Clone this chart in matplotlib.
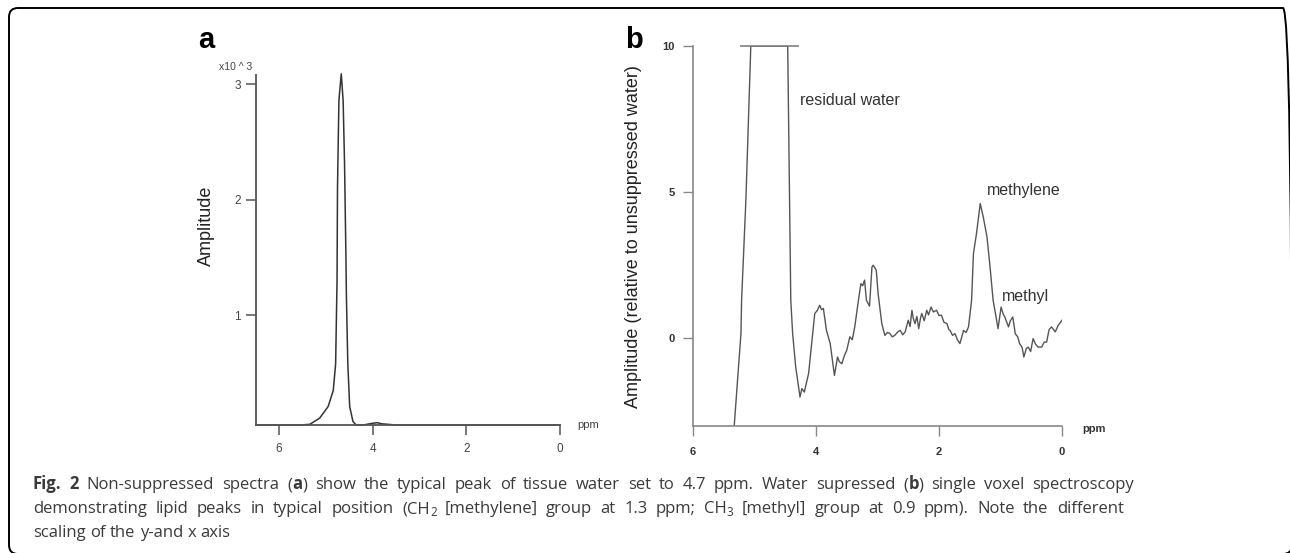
import matplotlib
matplotlib.use("Agg")
import matplotlib.pyplot as plt
from matplotlib.patches import FancyBboxPatch
from matplotlib.font_manager import FontProperties, findfont, get_font

# ---------------- data ----------------
# Panel a: non-suppressed spectrum (amplitude x10^3)
a_ppm = [6.49, 6.0, 5.8, 5.55, 5.34, 5.13, 4.95, 4.84, 4.79, 4.76, 4.75, 4.72,
         4.67, 4.63, 4.60, 4.57, 4.56, 4.53, 4.49, 4.42, 4.35, 4.2, 4.0, 3.9,
         3.8, 3.5, 3.0, 2.5, 2.0, 1.5, 1.0, 0.5, 0.0]
a_amp = [0.05, 0.05, 0.05, 0.05, 0.056, 0.11, 0.21, 0.35, 0.58, 1.30, 2.11, 2.86,
         3.09, 2.86, 2.32, 1.50, 1.16, 0.58, 0.21, 0.08, 0.05, 0.05, 0.065, 0.07,
         0.06, 0.05, 0.05, 0.05, 0.05, 0.05, 0.05, 0.05, 0.05]
a_xticks = [6, 4, 2, 0]
a_yticks = [1, 2, 3]

# Panel b: water-suppressed spectrum (relative to unsuppressed water)
b_ppm = [5.36, 5.33, 5.22, 5.21, 5.14, 5.06, 4.46, 4.43, 4.41, 4.38, 4.33,
         4.26, 4.23, 4.19, 4.12, 4.07, 4.02, 3.98, 3.94, 3.91, 3.88, 3.83, 3.77,
         3.70, 3.65, 3.62, 3.58, 3.54, 3.50, 3.45, 3.41, 3.37, 3.31, 3.27, 3.24,
         3.21, 3.18, 3.13, 3.09, 3.07, 3.02, 2.99, 2.93, 2.88, 2.84, 2.80, 2.76,
         2.72, 2.67, 2.63, 2.59, 2.55, 2.50, 2.47, 2.44, 2.42, 2.39, 2.36, 2.33,
         2.30, 2.28, 2.24, 2.20, 2.17, 2.13, 2.09, 2.04, 2.00, 1.96, 1.92, 1.87,
         1.84, 1.82, 1.78, 1.74, 1.70, 1.66, 1.60, 1.56, 1.52, 1.47, 1.44, 1.39,
         1.33, 1.28, 1.22, 1.17, 1.12, 1.07, 1.04, 0.99, 0.96, 0.93, 0.87, 0.84,
         0.80, 0.76, 0.72, 0.69, 0.65, 0.62, 0.58, 0.55, 0.51, 0.47, 0.43, 0.39,
         0.33, 0.29, 0.25, 0.21, 0.17, 0.11, 0.06, 0.0]
b_amp = [-3.4, -3.0, 0.17, 1.30, 4.73, 10.0, 10.0, 4.73, 1.30, 0.17, -0.98,
         -2.01, -1.72, -1.84, -1.20, -0.17, 0.85, 0.95, 1.13, 0.98, 1.02, 0.27, -0.17,
         -1.27, -0.64, -0.80, -0.87, -0.60, -0.41, 0.05, -0.05, 0.39, 1.30, 1.87, 1.80,
         1.99, 1.30, 1.10, 2.44, 2.50, 2.33, 1.53, 0.50, 0.10, 0.20, 0.17, 0.05,
         0.10, 0.22, 0.27, 0.12, 0.22, 0.62, 0.40, 0.96, 0.70, 0.50, 0.75, 0.33,
         0.70, 0.85, 0.60, 0.96, 0.80, 1.07, 0.90, 0.96, 0.78, 0.79, 0.55, 0.50,
         0.30, 0.27, 0.10, 0.16, -0.05, -0.18, 0.27, 0.20, 0.39, 1.30, 2.90, 3.59,
         4.61, 4.15, 3.47, 2.44, 1.30, 0.70, 0.33, 1.07, 0.85, 0.73, 0.39, 0.60,
         0.73, 0.16, 0.05, -0.18, -0.30, -0.64, -0.35, -0.30, -0.45, -0.01, -0.20, -0.30,
         -0.30, -0.13, -0.13, 0.30, 0.39, 0.22, 0.45, 0.62]
b_cap_ppm = [5.24, 4.28]
b_cap_val = 10.0
b_xticks = [6, 4, 2, 0]
b_yticks = [10, 5, 0]

# caption: segments of (text, style) with style n=normal, b=bold, sub=subscript
caption_lines = [
    [('Fig. 2', 'b'), (' Non-suppressed spectra (', 'n'), ('a', 'b'),
     (') show the typical peak of tissue water set to 4.7 ppm. Water supressed (', 'n'),
     ('b', 'b'), (') single voxel spectroscopy', 'n')],
    [('demonstrating lipid peaks in typical position (CH', 'n'), ('2', 'sub'),
     (' [methylene] group at 1.3 ppm; CH', 'n'), ('3', 'sub'),
     (' [methyl] group at 0.9 ppm). Note the different', 'n')],
    [('scaling of the y-and x axis', 'n')],
]

# ---------------- figure ----------------
W, H = 1290, 553
DPI = 100
fig = plt.figure(figsize=(W / DPI, H / DPI), dpi=DPI)
plt.rcParams['font.family'] = ['Liberation Sans', 'DejaVu Sans']


def fx(x):
    return x / W


def fy(y):
    return 1 - y / H


# frame
frame = FancyBboxPatch((9, -1), 1292 - 9, (H - 8) + 1,
                       boxstyle="round,pad=0,rounding_size=9",
                       transform=None, fill=False, ec='black', lw=1.4)
fig.patches.append(frame)

# ---- panel a ----
axa = fig.add_axes([fx(256), fy(425), fx(560) - fx(256), fy(75) - fy(425)])
axa.plot(a_ppm, a_amp, color='#333333', lw=1.1, clip_on=False)
axa.set_xlim(6.49, 0)
axa.set_ylim(0.05, 3.08)
axa.set_xticks(a_xticks)
axa.set_yticks(a_yticks)
axa.set_xticklabels([str(v) for v in a_xticks])
axa.set_yticklabels([str(v) for v in a_yticks])
for s in ['top', 'right']:
    axa.spines[s].set_visible(False)
for s in ['left', 'bottom']:
    axa.spines[s].set_color('#555555')
    axa.spines[s].set_linewidth(1.3)
axa.tick_params(axis='both', colors='#555555', labelcolor='#444444',
                labelsize=8.5, length=7, width=1.1)
axa.tick_params(axis='x', pad=6)
axa.tick_params(axis='y', pad=4)
axa.set_facecolor('none')

fig.text(fx(206), fy(226), 'Amplitude', rotation=90, ha='center', va='center',
         fontsize=13, color='#222222')
fig.text(fx(219), fy(67), 'x10 ^ 3', ha='left', va='center', fontsize=7.5,
         color='#444444')
fig.text(fx(577), fy(425), 'ppm', ha='left', va='center', fontsize=8,
         color='#444444')
fig.text(fx(198), fy(48), 'a', ha='left', va='baseline', fontsize=21,
         fontweight='bold', color='black')

# ---- panel b ----
axb = fig.add_axes([fx(693), fy(426), fx(1062) - fx(693), fy(46) - fy(426)])
axb.plot(b_ppm, b_amp, color='#555555', lw=1.0)
axb.hlines(b_cap_val, b_cap_ppm[0], b_cap_ppm[1], color='#777777', lw=1.1,
           clip_on=False)
axb.set_xlim(6, 0)
axb.set_ylim(-3.0, 10.0)
axb.set_xticks(b_xticks)
axb.set_yticks(b_yticks)
axb.set_xticklabels([str(v) for v in b_xticks])
axb.set_yticklabels([str(v) for v in b_yticks])
for s in ['top', 'right']:
    axb.spines[s].set_visible(False)
for s in ['left', 'bottom']:
    axb.spines[s].set_color('#888888')
    axb.spines[s].set_linewidth(1.2)
axb.tick_params(axis='both', colors='#888888', labelcolor='#333333',
                labelsize=8, length=7, width=1.0)
for lab in axb.get_xticklabels() + axb.get_yticklabels():
    lab.set_fontweight('bold')
axb.tick_params(axis='x', pad=8)
axb.tick_params(axis='y', pad=6)
axb.set_facecolor('none')

axb.text(4.26, 8.15, 'residual water', ha='left', va='center', fontsize=11.5,
         color='#333333')
axb.text(1.22, 5.07, 'methylene', ha='left', va='center', fontsize=11.5,
         color='#333333')
axb.text(0.98, 1.43, 'methyl', ha='left', va='center', fontsize=11.5,
         color='#333333')

fig.text(fx(633), fy(237), 'Amplitude (relative to unsuppressed water)',
         rotation=90, ha='center', va='center', fontsize=13, color='#222222')
fig.text(fx(1082), fy(429), 'ppm', ha='left', va='center', fontsize=8,
         fontweight='bold', color='#333333')
fig.text(fx(625), fy(48), 'b', ha='left', va='baseline', fontsize=21,
         fontweight='bold', color='black')

# ---- caption (word-justified like the reference) ----
CAP_FAMILY = 'Open Sans'
CAP_SIZE = 12.0
CAP_COLOR = '#3a3a3a'
style_props = {
    'n': dict(weight='normal', size=CAP_SIZE, dy=0),
    'b': dict(weight='bold', size=CAP_SIZE, dy=0),
    'sub': dict(weight='normal', size=CAP_SIZE * 0.7, dy=3.5),
}
_font_files = {}


def run_width(s, weight, size):
    if weight not in _font_files:
        _font_files[weight] = findfont(FontProperties(family=CAP_FAMILY, weight=weight))
    f = get_font(_font_files[weight])
    f.set_size(size, DPI)
    total = 0.0
    for ch in s:
        total += f.load_char(ord(ch)).linearHoriAdvance / 65536.0
    return total


def split_words(segs):
    words = [[]]
    for text, st in segs:
        parts = text.split(' ')
        for i, p in enumerate(parts):
            if i > 0:
                words.append([])
            if p:
                words[-1].append((p, st))
    return [w for w in words if w]


cap_x0 = 33
cap_targets = [1135, 1124, None]
cap_baselines = [489, 513, 537]
space_w = run_width(' ', 'normal', CAP_SIZE)
for segs, x1, yb in zip(caption_lines, cap_targets, cap_baselines):
    words = split_words(segs)
    wwidths = [sum(run_width(t, style_props[st]['weight'], style_props[st]['size'])
                   for t, st in w) for w in words]
    if x1 is None:
        gap = space_w
    else:
        gap = (x1 - cap_x0 - sum(wwidths)) / (len(words) - 1)
    x = cap_x0
    for w, ww in zip(words, wwidths):
        xr = x
        for t, st in w:
            p = style_props[st]
            fig.text(fx(xr), fy(yb + p['dy']), t, ha='left', va='baseline',
                     fontsize=p['size'], fontweight=p['weight'],
                     family=[CAP_FAMILY, 'DejaVu Sans'], color=CAP_COLOR)
            xr += run_width(t, p['weight'], p['size'])
        x += ww + gap

fig.savefig('out.png', dpi=DPI)
